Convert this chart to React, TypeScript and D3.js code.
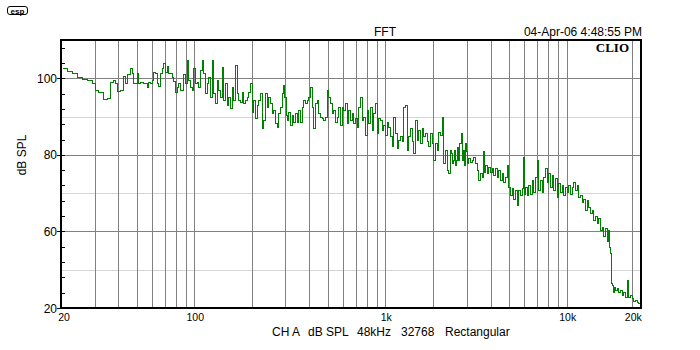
import React from 'react';
import * as d3 from 'd3';

// ---- data (frequency in Hz, level in dB SPL) ----
const traceLow: [number, number][] = [
  [20.2,102.6],[21.4,102.0],[22.8,101.3],[24.2,100.4],[25.7,99.8],[27.3,99.6],[29.0,98.7],[30.2,96.9],[31.4,96.3],[33.3,94.6],[34.7,94.8],[36.1,99.1],[37.6,99.6],[38.4,98.7],[39.2,96.7],[40.8,96.9],[42.4,100.6],[43.3,98.7],[44.2,101.0],[46.0,102.6],[47.0,101.3],[47.9,98.7],[49.9,101.3],[50.9,98.7],[51.9,99.0],[54.0,98.7],[56.7,97.8],[57.4,99.0],[58.6,98.7],[59.8,99.6],[61.0,101.7],[62.2,101.3],[63.5,98.7],[64.8,98.1],[66.1,101.3],[67.5,102.6],[68.8,103.9],[70.2,101.7],[71.7,103.2],[73.1,101.3],[76.1,100.4],[77.6,99.4],[79.2,96.5],[80.9,97.8],[82.4,98.7],[84.1,96.9],[87.6,101.0],[89.4,98.7],[91.2,104.8],[93.0,99.6],[95.0,97.8],[96.9,96.9],[98.8,102.6],
];

const traceMidLow: [number, number][] = [
  [100.8,98.7],[102.9,99.1],[104.9,97.8],[107.1,102.2],[109.3,104.8],[111.5,101.3],[113.8,96.1],[116.1,98.7],[118.4,100.4],[120.8,95.2],[123.3,104.8],[125.8,96.1],[128.4,93.5],[131.0,99.6],[133.6,96.9],[136.3,95.2],[139.2,103.0],[141.9,94.3],[144.8,98.7],[147.8,93.0],[150.7,95.2],[153.8,92.2],[157.0,97.8],[160.0,94.3],[163.3,103.5],[166.7,96.1],[170.0,94.3],[173.5,93.9],[177.1,96.5],[180.5,93.5],[184.2,94.3],[188.1,95.2],[191.7,96.5],[195.7,98.7],[199.8,91.3],[203.7,94.3],[207.9,89.6],[212.2,93.0],[216.3,94.3],[220.8,96.1],
  [225.4,86.9],[229.8,89.1],[234.5,96.1],[239.4,92.6],[244.0,95.2],[249.1,93.5],[254.3,90.9],[259.3,91.7],[264.6,88.2],[270.1,87.4],[275.4,90.9],[281.0,92.6],[286.9,96.1],[292.4,98.3],[296.0,95.2],[301.0,90.4],[304.7,89.1],[310.6,91.3],[317.0,87.8],[323.6,90.4],[329.9,88.7],[336.7,90.9],[343.7,88.7],[350.4,91.7],[357.6,88.7],[365.1,92.6],[372.2,94.3],[379.9,93.5],[387.7,94.3],[395.3,95.2],[403.5,97.8],[411.9,92.6],[419.8,86.9],[428.5,93.5],[437.4,94.3],[445.9,90.9],[455.1,90.0],[464.5,89.5],[473.6,89.1],[483.4,90.0],[493.4,96.9],[503.0,95.2],[513.4,93.5],[524.0,90.9],[534.2,91.7],[545.3,88.7],[556.5,90.0],[567.4,92.6],[579.1,87.8],[591.1,92.6],[602.7,91.7],[615.2,93.5],[627.9,88.2],[640.2,91.7],[653.4,89.1],[666.9,90.9],[679.9,88.2],[694.0,89.5],[708.4,87.4],[722.1,92.6],[737.0,95.2],[752.3,89.1],[767.0,90.0],[782.9,85.2],[799.1,91.7],[814.7,88.2],[831.6,92.6],[848.8,86.5],[865.4,90.9],[883.3,93.5],[901.6,85.6],[919.2,89.5],[938.2,89.1],[957.8,86.5],[976.1,87.8],[996.3,85.2],
];

const traceMidHigh: [number, number][] = [
  [1020,88.7],[1044,87.4],[1070,84.8],[1097,82.2],[1122,90.0],[1150,85.6],[1179,81.7],[1206,83.9],[1236,84.8],[1267,83.5],[1297,92.6],[1329,93.0],[1362,81.3],[1394,84.8],[1428,86.9],[1464,83.5],[1498,80.4],[1535,89.1],[1574,83.9],[1610,86.5],[1651,83.0],[1691,86.9],[1731,84.8],[1774,85.6],[1818,83.5],[1860,82.2],[1907,85.6],[1954,83.0],[2000,78.7],[2041,83.0],[2084,81.3],[2124,86.1],[2168,85.2],[2213,90.0],[2255,77.8],[2302,81.3],[2350,76.1],[2396,75.2],[2446,81.3],
  [2467,80.4],[2496,77.8],[2527,78.7],[2566,81.3],[2598,77.4],[2630,78.7],[2671,82.1],[2704,78.7],[2737,83.0],[2784,85.6],[2817,78.7],[2852,81.3],[2897,77.4],[2932,83.0],[2968,80.9],[3015,77.8],[3051,79.1],[3114,78.2],[3179,78.7],[3241,79.5],[3308,77.8],[3377,76.1],[3442,73.4],[3514,75.2],[3587,74.3],[3630,80.9],[3688,75.6],[3746,77.4],[3810,75.2],[3884,76.9],[3965,75.6],[4047,76.5],[4126,74.8],[4211,76.5],[4298,74.3],[4382,76.1],[4473,73.4],[4566,75.2],[4655,73.0],[4752,74.3],[4850,77.4],[4945,71.7],[5047,69.5],[5152,71.3],[5252,68.6],[5361,70.8],[5472,66.9],[5579,70.8],[5694,69.5],[5813,71.3],[5884,79.4],[5977,69.9],[6071,71.7],[6173,69.5],[6293,72.1],[6423,69.9],[6556,73.4],[6684,70.4],[6823,74.3],[6964,78.7],[7100,70.8],[7247,73.4],[7397,70.4],[7541,74.3],[7697,76.5],[7856,73.0],[8010,75.2],[8175,71.7],[8345,74.8],[8508,70.8],[8684,73.9],[8864,69.1],[9037,72.6],[9224,70.4],[9415,72.1],[9599,69.5],[9797,71.7],
];

const traceHigh: [number, number][] = [
  [10000,70.4],[10170,72.1],[10355,69.9],[10543,71.7],[10722,73.0],[10916,70.8],[11115,72.1],[11305,69.1],[11510,69.5],[11719,67.8],[11919,68.6],[12135,65.6],[12355,68.2],[12565,66.4],[12793,64.7],[13025,65.6],[13248,63.0],[13488,63.9],[13732,62.1],[13964,63.4],[14218,60.4],[14476,61.2],[14723,58.7],[14990,60.8],[15261,57.4],[15424,60.4],[15635,56.0],[15801,54.3],[15918,46.5],[16088,46.0],[16259,44.3],[16486,45.6],[16711,44.7],[16963,45.2],[17251,44.3],[17564,44.7],[17882,43.4],[18189,44.3],[18519,43.0],[18855,43.9],[18973,47.4],[19174,43.0],[19522,43.4],[19876,42.6],[20215,41.7],[20584,42.2],[20957,41.5],[21313,41.3],[21699,41.3],
];

// axis definitions
const freqAnchors = [20, 100, 1000, 2000, 10000, 20000, 21930];
const gridFreqs = [30, 40, 50, 60, 70, 80, 90, 100, 200, 300, 400, 500, 600, 700, 800, 900, 1000, 2000, 3000, 4000, 5000, 6000, 7000, 8000, 9000, 10000, 20000];
const xTickFreqs = [20, 100, 1000, 10000, 20000];
const xTickLabels = ['20', '100', '1k', '10k', '20k'];
const yMajor = [60, 80, 100];
const yMinorGrid = [50, 70, 90];
const yTickValues = [40, 60, 80, 100];
const yTickLabels = ['20', '60', '80', '100'];
const footerParts = ['CH A', 'dB SPL', '48kHz', '32768', 'Rectangular'];

const L = 61, R = 641, T = 40, B = 308;

export default function App() {
  const anchorPx = [L, 194.3, 385.3, 433.3, 566.7, 632.3, R];
  const x = d3.scaleLog().domain(freqAnchors).range(anchorPx);
  const y = d3.scaleLinear().domain([40, 110]).range([B, T]);
  const data = [...traceLow, ...traceMidLow, ...traceMidHigh, ...traceHigh];
  const line = d3.line<[number, number]>()
    .x(d => Math.round(x(d[0])) + 0.5)
    .y(d => Math.round(y(d[1])) + 0.5)
    .curve(d3.curveStepAfter);
  const minor = d3.range(40, 110, 4);
  const footerX = [272, 308, 357, 401, 445];
  const font = 'Liberation Sans, Arial, sans-serif';

  return (
    <svg width={700} height={350} style={{ position: 'absolute', left: 0, top: 0, background: '#fff' }}
      fontFamily={font}>
      <rect x={0} y={0} width={700} height={350} fill="#fff" />
      {/* esp logo */}
      <rect x={7.5} y={6.5} width={20} height={8} rx={2.5} fill="none" stroke="#000" strokeWidth={1} />
      <text x={17.5} y={13.5} fontSize={8} fontWeight="bold" textAnchor="middle" fill="#000">esp</text>

      <g shapeRendering="crispEdges">
        {yMinorGrid.map(v => (
          <line key={'lg' + v} x1={L} x2={R} y1={Math.round(y(v)) + 0.5} y2={Math.round(y(v)) + 0.5} stroke="#d4d4d4" strokeWidth={1} />
        ))}
        {yMajor.map(v => (
          <line key={'hg' + v} x1={L} x2={R} y1={Math.round(y(v)) + 0.5} y2={Math.round(y(v)) + 0.5} stroke="#808080" strokeWidth={1} />
        ))}
        {gridFreqs.map(f => (
          <line key={'vg' + f} x1={Math.round(x(f)) + 0.5} x2={Math.round(x(f)) + 0.5} y1={T} y2={B} stroke="#808080" strokeWidth={1} />
        ))}
      </g>

      <defs>
        <clipPath id="plotclip"><rect x={L} y={T} width={R - L} height={B - T} /></clipPath>
      </defs>
      <path d={line(data) || ''} fill="none" stroke="#008000" strokeWidth={1} clipPath="url(#plotclip)" shapeRendering="crispEdges" />

      <g shapeRendering="crispEdges">
        <line x1={L} x2={R + 1} y1={T} y2={T} stroke="#000" strokeWidth={2} />
        <line x1={R} x2={R} y1={T} y2={B} stroke="#000" strokeWidth={2} />
        <line x1={L} x2={R + 1} y1={B} y2={B} stroke="#000" strokeWidth={2} />
        <line x1={L} x2={L} y1={T - 1} y2={B + 1} stroke="#000" strokeWidth={2} />
        {minor.map(v => (
          <line key={'mt' + v} x1={L} x2={L + 4} y1={Math.round(y(v)) + 0.5} y2={Math.round(y(v)) + 0.5} stroke="#000" strokeWidth={1} />
        ))}
        {yTickValues.map(v => (
          <line key={'ytl' + v} x1={L - 4} x2={L} y1={Math.round(y(v)) + 0.5} y2={Math.round(y(v)) + 0.5} stroke="#000" strokeWidth={1} />
        ))}
      </g>
      {yTickValues.map((v, i) => (
        <text key={'yt' + v} x={L - 4} y={y(v) + 4.5} fontSize={12} textAnchor="end" fill="#000">{yTickLabels[i]}</text>
      ))}
      {xTickFreqs.map((f, i) => (
        <text key={'xt' + f} x={x(f) + (i === 0 ? 3 : 1)} y={321} fontSize={10.5} textAnchor="middle" fill="#000">{xTickLabels[i]}</text>
      ))}

      <text transform="translate(26,155) rotate(-90)" fontSize={12} textAnchor="middle" fill="#000">dB SPL</text>
      <text x={385} y={36} fontSize={12} textAnchor="middle" fill="#000">FFT</text>
      <text x={642} y={36} fontSize={12} textAnchor="end" fill="#000">04-Apr-06 4:48:55 PM</text>
      <text x={629} y={52} fontSize={13} fontWeight="bold" textAnchor="end" fill="#000"
        fontFamily="Liberation Serif, Times New Roman, serif">CLIO</text>
      {footerParts.map((p, i) => (
        <text key={'ft' + i} x={footerX[i]} y={336} fontSize={12} fill="#000">{p}</text>
      ))}
    </svg>
  );
}
